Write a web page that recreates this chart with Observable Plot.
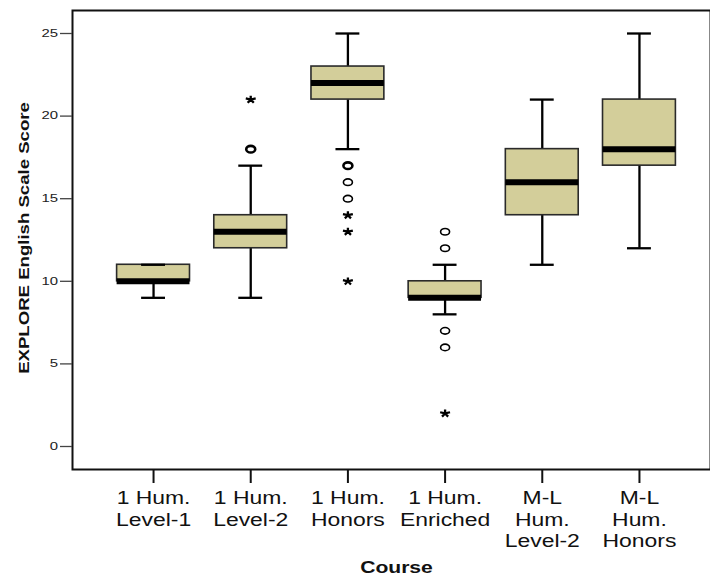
<!DOCTYPE html>
<html>
<head>
<meta charset="utf-8">
<script src="https://cdn.jsdelivr.net/npm/d3@7"></script>
<script src="https://cdn.jsdelivr.net/npm/@observablehq/plot@0.6"></script>
<style>
  html, body { margin: 0; padding: 0; background: #fff; }
  #chart { width: 710px; height: 576px; overflow: hidden; }
</style>
</head>
<body>
<div id="chart"></div>
<script>
// ---- data ----
const courses = ["1 Hum.\nLevel-1", "1 Hum.\nLevel-2", "1 Hum.\nHonors", "1 Hum.\nEnriched", "M-L\nHum.\nLevel-2", "M-L\nHum.\nHonors"];
const whiskerLow  = [9, 9, 18, 8, 11, 12];
const quartile1   = [10, 12, 21, 9, 14, 17];
const medians     = [10, 13, 22, 9, 16, 18];
const quartile3   = [11, 14, 23, 10, 18, 21];
const whiskerHigh = [11, 17, 25, 11, 21, 25];
const yTicks = [0, 5, 10, 15, 20, 25];
const outlierCourse = [1, 1, 1, 2, 2, 2, 2, 2, 2, 2, 3, 3, 3, 3, 3];
const outlierValue  = [18, 18, 21, 17, 17, 16, 15, 14, 13, 10, 13, 12, 7, 6, 2];
const outlierKind   = ["o", "o", "*", "o", "o", "o", "o", "*", "*", "*", "o", "o", "o", "o", "*"];
const yLabel = "EXPLORE English Scale Score";
const xLabel = "Course";

// ---- derived tables ----
const boxes = courses.map((c, i) => ({
  course: c, low: whiskerLow[i], q1: quartile1[i], med: medians[i], q3: quartile3[i], high: whiskerHigh[i]
}));
const outliers = outlierValue.map((v, i) => ({course: courses[outlierCourse[i]], value: v, kind: outlierKind[i]}));
const keyOf = d => d.course + "|" + d.value + "|" + d.kind;
const counts = d3.rollup(outliers, g => g.length, keyOf);
const uniq = Array.from(new Map(outliers.map(d => [keyOf(d), d])).values())
  .map(d => ({...d, n: counts.get(keyOf(d))}));
const circles = uniq.filter(d => d.kind === "o");
const stars = uniq.filter(d => d.kind === "*");

// custom symbols (slightly wide, like the reference)
const ellipse = {
  draw(ctx) {
    const rx = 4.5, ry = 3.3, k = 0.5523;
    ctx.moveTo(rx, 0);
    ctx.bezierCurveTo(rx, ry * k, rx * k, ry, 0, ry);
    ctx.bezierCurveTo(-rx * k, ry, -rx, ry * k, -rx, 0);
    ctx.bezierCurveTo(-rx, -ry * k, -rx * k, -ry, 0, -ry);
    ctx.bezierCurveTo(rx * k, -ry, rx, -ry * k, rx, 0);
    ctx.closePath();
  }
};
const asterisk = {
  draw(ctx) {
    const rx = 5.2, ry = 3.9;
    for (let j = 0; j < 5; j++) {
      const a = -Math.PI / 2 + j * 2 * Math.PI / 5;
      ctx.moveTo(0, 0);
      ctx.lineTo(rx * Math.cos(a), ry * Math.sin(a));
    }
  }
};

const font = "'Liberation Sans', Arial, Helvetica, sans-serif";
const boxFill = "#D3CE9A";
const W = 710, H = 576, mL = 72, mT = 10, mB = 107;

const chart = Plot.plot({
  width: W,
  height: H,
  marginLeft: mL,
  marginRight: 0,
  marginTop: mT,
  marginBottom: mB,
  style: {fontFamily: font, background: "#fff", color: "#111"},
  // the plotting frame continues ~10px past the right edge of the picture
  x: {type: "band", domain: courses, range: [mL, 720], paddingInner: 0.25, paddingOuter: 0.459, align: 0.5, round: false},
  y: {domain: [0, 25], range: [446, 33]},
  marks: [
    Plot.frame({stroke: "#111", strokeWidth: 2}),
    Plot.axisY({ticks: yTicks, tickSize: 12, tickPadding: 2.5, tickFormat: d => String(d), label: null,
      stroke: "#444", strokeWidth: 1.3, fill: "#222", fontSize: 10.5}),
    Plot.axisX({tickSize: 14, tickPadding: 5, label: null, lineHeight: 1.24, stroke: "#111",
      strokeWidth: 2, fill: "#111", fontSize: 17.5}),
    Plot.ruleX(boxes, {x: "course", y1: "low", y2: "q1", stroke: "#000", strokeWidth: 2.3}),
    Plot.ruleX(boxes, {x: "course", y1: "q3", y2: "high", stroke: "#000", strokeWidth: 2.3}),
    Plot.barY(boxes, {x: "course", y1: "q1", y2: "q3", fill: boxFill, stroke: "#2a2a2a", strokeWidth: 1.6}),
    Plot.tickY(boxes, {x: "course", y: "med", stroke: "#000", strokeWidth: 6}),
    Plot.tickY(boxes, {x: "course", y: "low", stroke: "#000", strokeWidth: 2.3, insetLeft: 24.5, insetRight: 24.5}),
    Plot.tickY(boxes, {x: "course", y: "high", stroke: "#000", strokeWidth: 2.3, insetLeft: 24.5, insetRight: 24.5}),
    Plot.dot(circles, {x: "course", y: "value", symbol: ellipse, fill: "none", stroke: "#000",
      strokeWidth: d => d.n > 1 ? 2.6 : 1.6}),
    Plot.dot(stars, {x: "course", y: "value", symbol: asterisk, fill: "none", stroke: "#000",
      strokeWidth: 2.3, strokeLinecap: "butt"}),
    Plot.text([yLabel], {text: d => d, frameAnchor: "left", rotate: -90, dx: -44, dy: -2,
      lineAnchor: "bottom", textAnchor: "middle", fontWeight: "bold", fontSize: 15.5, fill: "#111", ariaLabel: () => "y-label"}),
    Plot.text([xLabel], {text: d => d, frameAnchor: "bottom", dx: 5, dy: 103, lineAnchor: "bottom",
      textAnchor: "middle", fontWeight: "bold", fontSize: 16, fill: "#111", ariaLabel: () => "x-label"})
  ]
});

// the frame has no right side inside the picture: skip that side of the rectangle
d3.select(chart).selectAll("rect").filter(function () {
  return this.parentNode && this.parentNode.getAttribute("aria-label") === "frame";
}).each(function () {
  const w = +this.getAttribute("width"), h = +this.getAttribute("height");
  this.setAttribute("stroke-dasharray", `${w} ${h} ${w + h} 0`);
});

// widen glyphs along their reading direction, as in the reference rendering
const stretch = {"y-axis tick label": 1.42, "x-axis tick label": 1.31, "y-label": 1.2, "x-label": 1.32};
const widen = (el, s) => {
  const t = el.getAttribute("transform") || "";
  if (!el.__wide) { el.setAttribute("transform", t + ` scale(${s},1)`); el.__wide = true; }
};
d3.select(chart).selectAll("[aria-label]").each(function () {
  const s = stretch[this.getAttribute("aria-label")];
  if (!s) return;
  if (this.tagName.toLowerCase() === "text") widen(this, s);
  else d3.select(this).selectAll("text").each(function () { widen(this, s); });
});

document.getElementById("chart").appendChild(chart);
</script>
</body>
</html>
